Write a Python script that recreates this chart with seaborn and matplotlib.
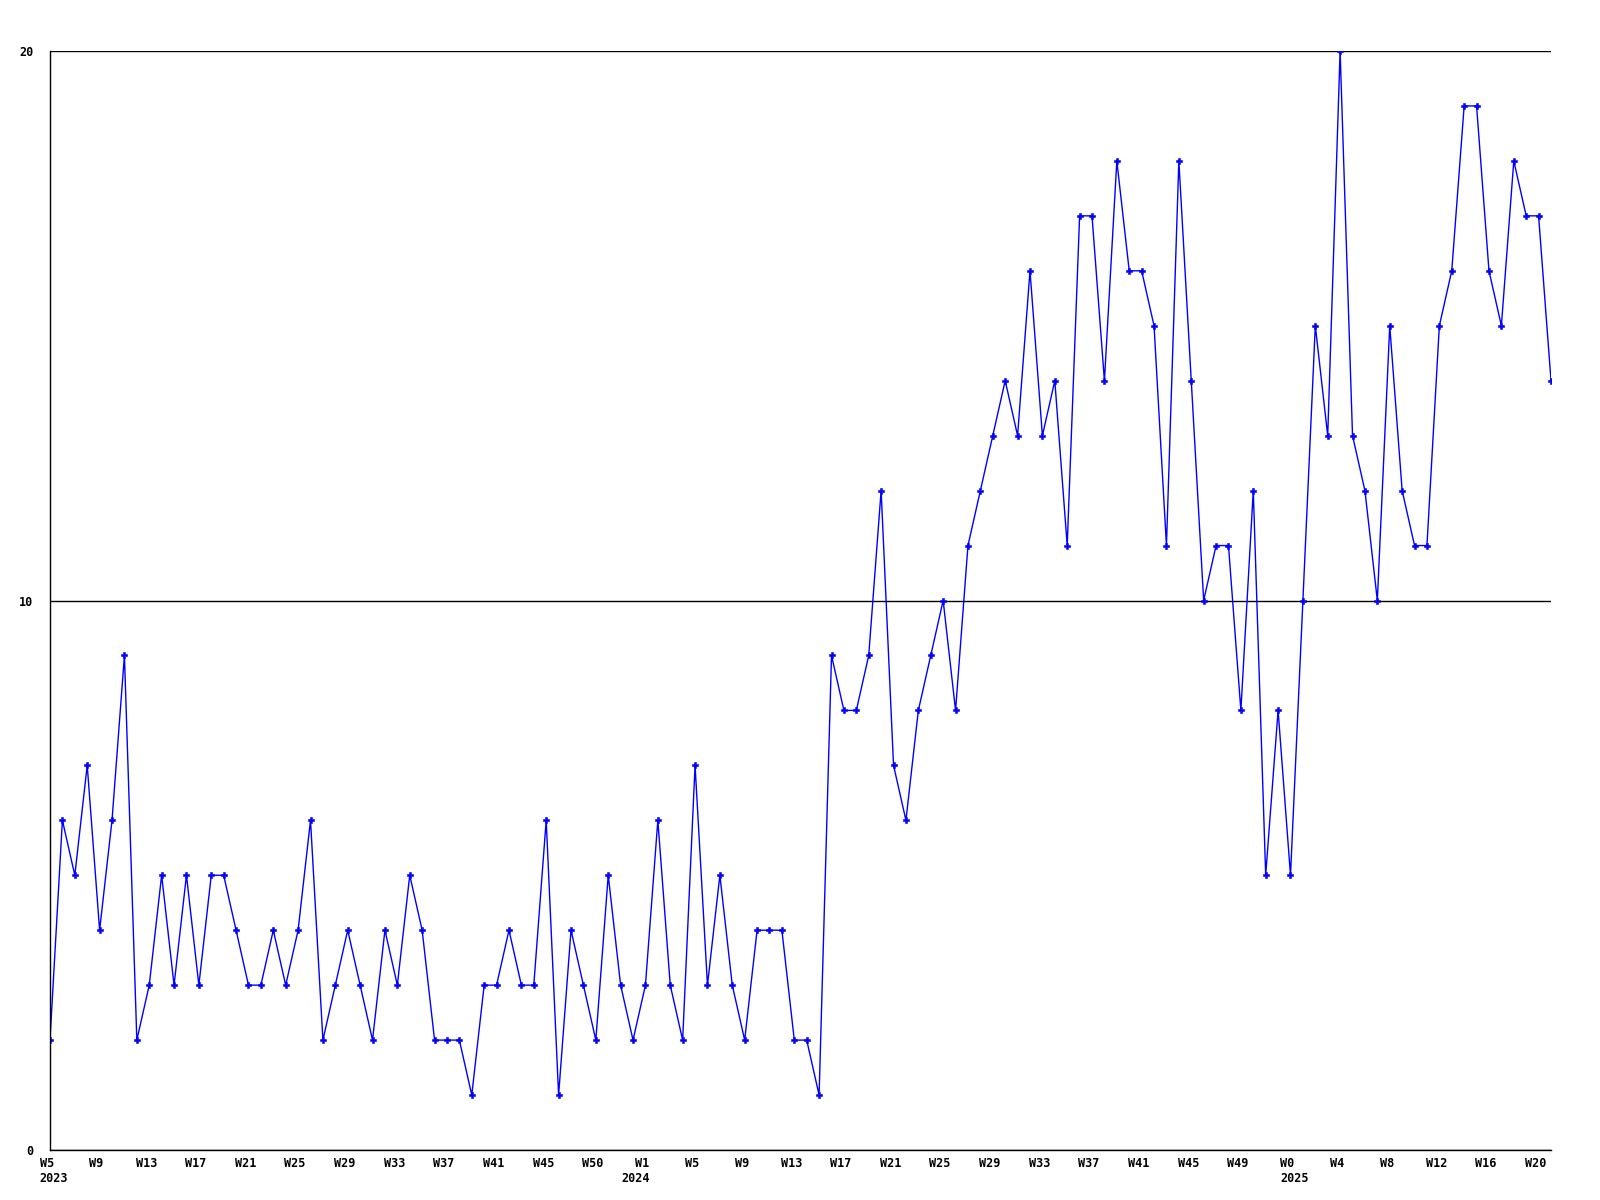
import matplotlib
matplotlib.use("Agg")
import matplotlib.pyplot as plt
import matplotlib.transforms as mtransforms
import seaborn as sns
import pandas as pd

# ---- data -------------------------------------------------------------
values = [
    2, 6, 5, 7, 4, 6, 9, 2, 3, 5,
    3, 5, 3, 5, 5, 4, 3, 3, 4, 3,
    4, 6, 2, 3, 4, 3, 2, 4, 3, 5,
    4, 2, 2, 2, 1, 3, 3, 4, 3, 3,
    6, 1, 4, 3, 2, 5, 3, 2, 3, 6,
    3, 2, 7, 3, 5, 3, 2, 4, 4, 4,
    2, 2, 1, 9, 8, 8, 9, 12, 7, 6,
    8, 9, 10, 8, 11, 12, 13, 14, 13, 16,
    13, 14, 11, 17, 17, 14, 18, 16, 16, 15,
    11, 18, 14, 10, 11, 11, 8, 12, 5, 8,
    5, 10, 15, 13, 20, 13, 12, 10, 15, 12,
    11, 11, 15, 16, 19, 19, 16, 15, 18, 17,
    17, 14,
]
week_tick_labels = [
    "W5", "W9", "W13", "W17", "W21", "W25", "W29", "W33", "W37", "W41", "W45", "W50",
    "W1", "W5", "W9", "W13", "W17", "W21", "W25", "W29", "W33", "W37", "W41", "W45", "W49",
    "W0", "W4", "W8", "W12", "W16", "W20",
]
year_labels = ["2023", "2024", "2025"]
year_tick_index = [0, 12, 25]   # which week tick carries each year label
y_ticks = [0, 10, 20]

# ---- figure ------------------------------------------------------------
sns.set_theme(style="white")
plt.rcParams["font.family"] = ["DejaVu Sans Mono", "DejaVu Sans"]
plt.rcParams["font.weight"] = "bold"

fig = plt.figure(figsize=(16, 12), dpi=100)
ax = fig.add_axes([50 / 1600, 1 - 1150 / 1200, 1501 / 1600, 1099 / 1200])

df = pd.DataFrame({"idx": range(len(values)), "value": values})
sns.lineplot(data=df, x="idx", y="value", ax=ax, color="#0000ff",
             linewidth=1.0, marker="P", markersize=5,
             markeredgewidth=0.4, markeredgecolor="#0000ff",
             markerfacecolor="#0000ff")

ax.set_xlim(0, len(values) - 1)
ax.set_ylim(0, 20)
ax.set_xlabel("")
ax.set_ylabel("")

tick_pos = list(range(0, len(values), 4))[:len(week_tick_labels)]
ax.set_xticks(tick_pos)
ax.set_xticklabels(week_tick_labels, fontsize=8.5, fontweight="bold")
ax.set_yticks(y_ticks)
ax.set_yticklabels([str(v) for v in y_ticks], fontsize=8.5, fontweight="bold")
ax.tick_params(axis="x", length=0, pad=5, colors="black")
ax.tick_params(axis="y", length=0, pad=12, colors="black")

shift = mtransforms.ScaledTranslation(-3 / 100, 0, fig.dpi_scale_trans)
for lab in ax.get_xticklabels():
    lab.set_transform(lab.get_transform() + shift)

ax.grid(axis="y", color="black", linewidth=1.0)
ax.grid(axis="x", visible=False)
for side in ("top", "right"):
    ax.spines[side].set_visible(False)
for side in ("left", "bottom"):
    ax.spines[side].set_color("black")
    ax.spines[side].set_linewidth(1.0)

year_offsets = [-7.5, -17.0, -7.5]
for yl, ti, off in zip(year_labels, year_tick_index, year_offsets):
    ax.annotate(yl, xy=(tick_pos[ti], 0), xycoords=("data", "axes fraction"),
                xytext=(off, -16), textcoords="offset points",
                ha="left", va="top", fontsize=8.5, fontweight="bold",
                color="black")

fig.savefig("out.png", dpi=100, facecolor="white")
